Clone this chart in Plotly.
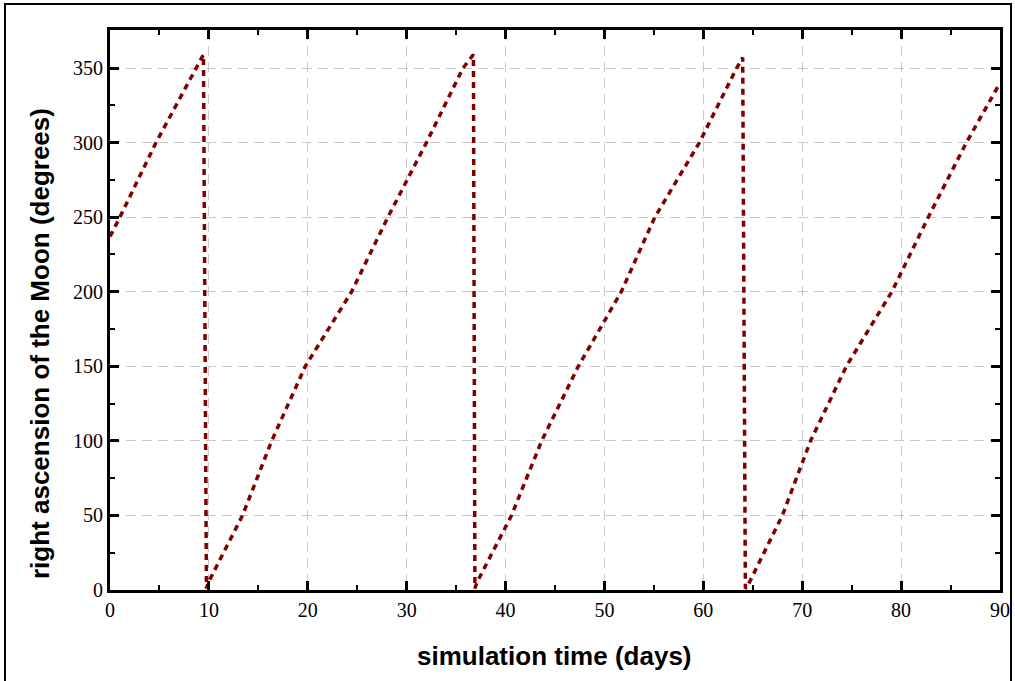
import plotly.graph_objects as go

# simulation time (days) and right ascension of the Moon (degrees)
time_days = [0.0, 1.0, 4.65, 8.77, 9.45, 9.75,
             9.94, 13.4, 16.35, 19.75, 24.43, 28.1, 32.0, 35.7, 36.75, 36.9,
             37.1, 40.6, 43.65, 47.36, 51.7, 55.1, 59.6, 63.37, 63.98, 64.25,
             64.5, 67.99, 70.84, 74.46, 79.06, 82.75, 86.6, 90.0]
ra_deg = [237, 250, 300, 350, 359, 1,
          5, 50, 100, 150, 200, 250, 300, 350, 359, 1,
          5, 50, 100, 150, 200, 250, 300, 350, 357, 1,
          3, 50, 100, 150, 200, 250, 300, 340]

x_ticks = [0, 10, 20, 30, 40, 50, 60, 70, 80, 90]
y_ticks = [0, 50, 100, 150, 200, 250, 300, 350]
x_title = "simulation time (days)"
y_title = "right ascension of the Moon (degrees)"

fig = go.Figure()
fig.add_trace(go.Scatter(
    x=time_days, y=ra_deg, mode="lines",
    line=dict(color="#800000", width=3.5, dash="6px,5px"),
    showlegend=False, hoverinfo="skip",
))

tick_font = dict(family="Liberation Serif", size=20, color="black")
title_font = dict(family="Liberation Sans", size=26, color="black")

common = dict(
    showline=True, linecolor="black", linewidth=3, mirror="allticks",
    ticks="inside", ticklen=9, tickwidth=2.5, tickcolor="black",
    showgrid=True, gridcolor="#c8c8c8", gridwidth=1, griddash="10px,6px",
    zeroline=False, tickfont=tick_font,
)
fig.update_xaxes(
    range=[0, 90], tickvals=x_ticks, ticktext=[str(v) for v in x_ticks],
    minor=dict(dtick=5, ticks="inside", ticklen=5, tickwidth=2, tickcolor="black", showgrid=False),
    **common,
)
fig.update_yaxes(
    range=[0, 375.5], tickvals=y_ticks, ticktext=[str(v) for v in y_ticks],
    minor=dict(dtick=25, ticks="inside", ticklen=5, tickwidth=2, tickcolor="black", showgrid=False),
    **common,
)

W, H = 1015, 681
L, R, T, B = 110, 15, 30, 91
pw, ph = W - L - R, H - T - B

def px_x(p):
    return (p - L) / pw

def px_y(p):
    return (T + ph - p) / ph

fig.update_layout(
    width=W, height=H,
    margin=dict(l=L, r=R, t=T, b=B, autoexpand=False),
    paper_bgcolor="white", plot_bgcolor="white",
    shapes=[dict(
        type="rect", xref="paper", yref="paper", layer="above",
        x0=px_x(5), x1=px_x(1011), y0=px_y(690), y1=px_y(4),
        line=dict(color="black", width=2), fillcolor="rgba(0,0,0,0)",
    )],
    annotations=[
        dict(text=f"<b>{x_title}</b>", xref="paper", yref="paper",
             x=px_x(554), y=px_y(656), xanchor="center", yanchor="middle",
             showarrow=False, font=title_font),
        dict(text=f"<b>{y_title}</b>", xref="paper", yref="paper",
             x=px_x(40), y=px_y(344), xanchor="center", yanchor="middle",
             textangle=-90, showarrow=False, font=title_font),
    ],
)

fig.write_html("out.html", config={"displayModeBar": False},
               post_script="document.body.style.margin='0';document.body.style.overflow='hidden';")
